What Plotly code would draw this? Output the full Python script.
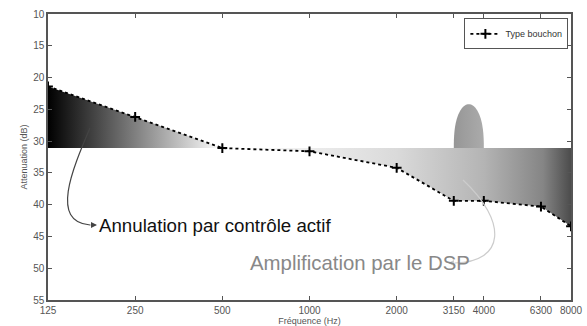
import numpy as np
import plotly.graph_objects as go

# Fréquences (Hz) et atténuation mesurée (dB)
freqs = [125, 250, 500, 1000, 2000, 3150, 4000, 6300, 8000]
attenuation = [21.4, 26.2, 31.1, 31.6, 34.2, 39.4, 39.4, 40.3, 43.4]
tick_labels = ["125", "250", "500", "1000", "2000", "3150", "4000", "6300", "8000"]
y_ticks = [10, 15, 20, 25, 30, 35, 40, 45, 50, 55]

threshold = attenuation[2]  # niveau de référence (500 Hz)

# bosse d'amplification du DSP
bump_lo, bump_hi, bump_peak = 3150, 4000, 24.2

W, H = 587, 326
L, R, T, B = 48, 571, 14, 300


def px(x, y):
    """pixel -> paper coords"""
    return (x - L) / (R - L), 1 - (y - T) / (B - T)


fig = go.Figure()

# zone annulation (au-dessus du seuil, 125-500 Hz)
xl = freqs[:3] + [freqs[0]]
yl = attenuation[:3] + [threshold]
fig.add_trace(go.Scatter(
    x=xl, y=yl, fill="toself", mode="none", showlegend=False,
    fillgradient=dict(type="horizontal", colorscale=[[0, "#000000"], [1, "#ffffff"]]),
    hoverinfo="skip"))

# zone amplification (sous le seuil, 500-8000 Hz)
xr = freqs[2:] + [freqs[-1], freqs[2]]
yr = attenuation[2:] + [threshold, threshold]
fig.add_trace(go.Scatter(
    x=xr, y=yr, fill="toself", mode="none", showlegend=False,
    fillgradient=dict(type="horizontal", colorscale=[
        [0, "#ffffff"], [0.5, "#dadada"], [0.75, "#b4b4b4"],
        [0.92, "#858585"], [1, "#4c4c4c"]]),
    hoverinfo="skip"))

# bosse
t = np.linspace(0, np.pi, 60)
c = (np.log10(bump_lo) + np.log10(bump_hi)) / 2
hw = (np.log10(bump_hi) - np.log10(bump_lo)) / 2
bx = 10 ** (c - hw * np.cos(t))
by = threshold - (threshold - bump_peak) * np.sin(t) ** 0.8
fig.add_trace(go.Scatter(
    x=bx, y=by, fill="toself", mode="none", showlegend=False,
    fillgradient=dict(type="horizontal", colorscale=[[0, "#969696"], [1, "#ababab"]]),
    hoverinfo="skip"))

# courbe mesurée
fig.add_trace(go.Scatter(
    x=freqs, y=attenuation, mode="lines+markers", name="Type bouchon",
    line=dict(color="black", width=1.8, dash="dot"),
    marker=dict(symbol="cross-thin", size=7, line=dict(color="black", width=2))))

axis_common = dict(
    showline=True, linecolor="#555555", linewidth=1.5, mirror="allticks",
    ticks="inside", ticklen=4, tickcolor="#555555", showgrid=False, zeroline=False,
    automargin=False,
    tickfont=dict(family="Liberation Sans", size=10, color="#555555"),
)

fig.update_xaxes(
    type="log", range=[np.log10(freqs[0]), np.log10(freqs[-1])],
    tickvals=freqs, ticktext=tick_labels,
    title=dict(text="Fréquence (Hz)", standoff=1,
               font=dict(family="Liberation Sans", size=9, color="#555555")),
    **axis_common)
fig.update_yaxes(
    range=[55, 10], tickvals=y_ticks,
    title=dict(text="Attenuation (dB)", standoff=4,
               font=dict(family="Liberation Sans", size=9, color="#555555")),
    **axis_common)

# flèches courbes
s1 = px(90, 128); c1a = px(72, 170); c1b = px(50, 222); e1 = px(90, 225)
s2 = px(463, 180); c2a = px(508, 222); c2b = px(505, 262); e2 = px(455, 263)
shapes = [
    dict(type="path", xref="paper", yref="paper",
         path=f"M {s1[0]},{s1[1]} C {c1a[0]},{c1a[1]} {c1b[0]},{c1b[1]} {e1[0]},{e1[1]}",
         line=dict(color="#444444", width=1.2)),
    dict(type="path", xref="paper", yref="paper",
         path=f"M {s2[0]},{s2[1]} C {c2a[0]},{c2a[1]} {c2b[0]},{c2b[1]} {e2[0]},{e2[1]}",
         line=dict(color="#cccccc", width=1.2)),
]

h1 = px(97, 225); h2 = px(448, 263)
annotations = [
    dict(xref="paper", yref="paper", x=h1[0], y=h1[1], ax=-8, ay=0, text="",
         showarrow=True, arrowhead=2, arrowsize=1, arrowwidth=1.2, arrowcolor="#444444"),
    dict(xref="paper", yref="paper", x=h2[0], y=h2[1], ax=8, ay=0, text="",
         showarrow=True, arrowhead=2, arrowsize=1, arrowwidth=1.2, arrowcolor="#cccccc"),
    dict(xref="paper", yref="paper", x=px(97, 225)[0], y=px(97, 225)[1],
         xanchor="left", yanchor="middle", showarrow=False,
         text="Annulation par contrôle actif",
         font=dict(family="Liberation Sans", size=18.7, color="#111111")),
    dict(xref="paper", yref="paper", x=px(472, 263)[0], y=px(472, 263)[1],
         xanchor="right", yanchor="middle", showarrow=False,
         text="Amplification par le DSP",
         font=dict(family="Liberation Sans", size=20.4, color="#888888")),
]

fig.update_layout(
    width=W, height=H,
    margin=dict(l=L, r=W - R, t=T, b=H - B),
    plot_bgcolor="white", paper_bgcolor="white",
    shapes=shapes, annotations=annotations,
    legend=dict(x=0.995, y=0.985, xanchor="right", yanchor="top",
                bordercolor="#555555", borderwidth=1, bgcolor="white",
                font=dict(family="Liberation Sans", size=9, color="#333333"),
                itemwidth=30, tracegroupgap=0),
    showlegend=True,
)

fig.write_html("out.html", config={"displayModeBar": False},
               post_script="document.body.style.margin='0';document.body.style.overflow='hidden';")
